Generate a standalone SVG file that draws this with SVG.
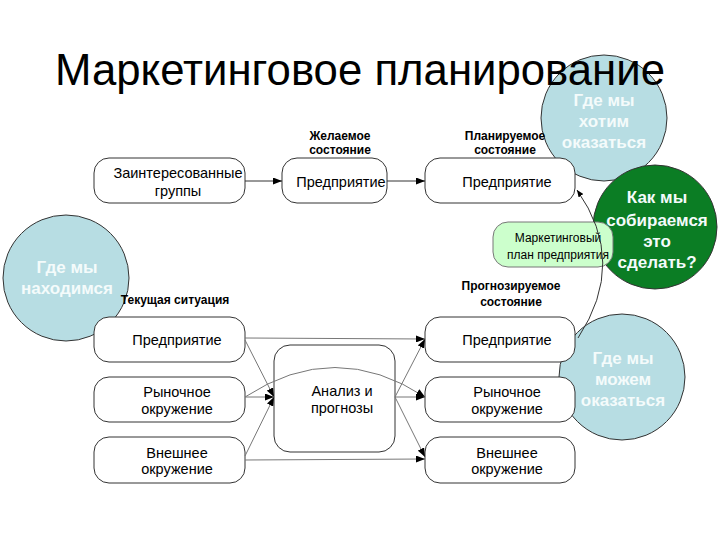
<svg xmlns="http://www.w3.org/2000/svg" width="720" height="540" viewBox="0 0 720 540">
<style>
.title{font-family:"Liberation Sans",Arial,sans-serif;font-size:44px;fill:#000}
.bx{fill:#fff;stroke:#333;stroke-width:1}
.plan{fill:#ccffcc;stroke:#777;stroke-width:1}
.t{font-family:"Liberation Sans",Arial,sans-serif;font-size:14.5px;fill:#000;text-anchor:middle}
.ts{font-family:"Liberation Sans",Arial,sans-serif;font-size:12px;fill:#000;text-anchor:middle}
.lb{font-family:"Liberation Sans",Arial,sans-serif;font-size:12px;font-weight:bold;fill:#000;text-anchor:middle}
.cb{fill:#b7dde3;stroke:#333;stroke-width:1}
.cg{fill:#0b7d24;stroke:#333;stroke-width:1}
.ct{font-family:"Liberation Sans",Arial,sans-serif;font-size:17px;font-weight:bold;fill:#f4fbfb;text-anchor:middle}
.ln{fill:none;stroke:#777;stroke-width:1}
.lnd{fill:none;stroke:#333;stroke-width:1}
</style>
<defs>
<marker id="ah" markerUnits="userSpaceOnUse" markerWidth="9" markerHeight="7" refX="9" refY="3.5" orient="auto">
<path d="M0,0 L9,3.5 L0,7 z" fill="#000"/>
</marker>
<marker id="ahs" markerUnits="userSpaceOnUse" markerWidth="7" markerHeight="6" refX="7" refY="3" orient="auto">
<path d="M0,0 L7,3 L0,6 z" fill="#000"/>
</marker>
</defs>

<g id="c-left">
<circle class="cb" cx="66" cy="278" r="63"/>
<text class="ct" x="67" y="273">Где мы</text>
<text class="ct" x="67" y="294">находимся</text>
</g>
<g id="c-want">
<circle class="cb" cx="604" cy="118" r="63"/>
<text class="ct" x="604" y="106">Где мы</text>
<text class="ct" x="604" y="127">хотим</text>
<text class="ct" x="604" y="148">оказаться</text>
</g>
<g id="c-can">
<circle class="cb" cx="622" cy="377" r="63"/>
<text class="ct" x="623" y="364">Где мы</text>
<text class="ct" x="623" y="385">можем</text>
<text class="ct" x="623" y="406">оказаться</text>
</g>
<g id="c-how">
<circle class="cg" cx="655" cy="227" r="62"/>
<text class="ct" x="657" y="203">Как мы</text>
<text class="ct" x="657" y="226">собираемся</text>
<text class="ct" x="657" y="247">это</text>
<text class="ct" x="657" y="268">сделать?</text>
</g>

<text class="title" x="55" y="85" textLength="610" lengthAdjust="spacingAndGlyphs">Маркетинговое планирование</text>

<g id="labels">
<text class="lb" x="340" y="140">Желаемое</text>
<text class="lb" x="340" y="154">состояние</text>
<text class="lb" x="505" y="140">Планируемое</text>
<text class="lb" x="505" y="154">состояние</text>
<text class="lb" x="511" y="290">Прогнозируемое</text>
<text class="lb" x="511" y="306">состояние</text>
<text class="lb" x="175" y="304">Текущая ситуация</text>
</g>

<g id="n-groups">
<rect class="bx" x="94" y="158" width="151" height="45" rx="15"/>
<text class="t" x="178" y="178">Заинтересованные</text>
<text class="t" x="178" y="196">группы</text>
</g>
<g id="n-desired">
<rect class="bx" x="282" y="158" width="105" height="45" rx="15"/>
<text class="t" x="341" y="187">Предприятие</text>
</g>
<g id="n-planned">
<rect class="bx" x="425" y="158" width="150" height="45" rx="15"/>
<text class="t" x="507" y="187">Предприятие</text>
</g>
<g id="n-plan">
<rect class="plan" x="493" y="222" width="120" height="45" rx="15"/>
<text class="ts" x="558" y="242">Маркетинговый</text>
<text class="ts" x="558" y="259">план предприятия</text>
</g>
<g id="n-cur-ent">
<rect class="bx" x="94" y="317" width="151" height="45" rx="15"/>
<text class="t" x="177" y="345">Предприятие</text>
</g>
<g id="n-cur-mkt">
<rect class="bx" x="94" y="377" width="151" height="45" rx="15"/>
<text class="t" x="177" y="397">Рыночное</text>
<text class="t" x="177" y="414">окружение</text>
</g>
<g id="n-cur-ext">
<rect class="bx" x="94" y="437" width="151" height="46" rx="15"/>
<text class="t" x="177" y="458">Внешнее</text>
<text class="t" x="177" y="474">окружение</text>
</g>
<g id="n-analysis">
<rect class="bx" x="274" y="345" width="121" height="107" rx="16"/>
<text class="t" x="342" y="396">Анализ и</text>
<text class="t" x="342" y="413">прогнозы</text>
</g>
<g id="n-fc-ent">
<rect class="bx" x="425" y="317" width="150" height="45" rx="15"/>
<text class="t" x="507" y="345">Предприятие</text>
</g>
<g id="n-fc-mkt">
<rect class="bx" x="425" y="377" width="150" height="45" rx="15"/>
<text class="t" x="507" y="397">Рыночное</text>
<text class="t" x="507" y="414">окружение</text>
</g>
<g id="n-fc-ext">
<rect class="bx" x="425" y="437" width="150" height="46" rx="15"/>
<text class="t" x="507" y="458">Внешнее</text>
<text class="t" x="507" y="474">окружение</text>
</g>

<g id="connectors">
<line class="lnd" x1="245" y1="181" x2="282" y2="181" marker-end="url(#ah)"/>
<line class="lnd" x1="387" y1="181" x2="425" y2="181" marker-end="url(#ah)"/>
<path class="lnd" d="M578,338 Q628,262 577,190" marker-end="url(#ahs)"/>
<line class="ln" x1="245" y1="338" x2="425" y2="339" marker-end="url(#ah)"/>
<line class="ln" x1="245" y1="460" x2="425" y2="459" marker-end="url(#ah)"/>
<line class="ln" x1="245" y1="340" x2="274" y2="397" marker-end="url(#ah)"/>
<line class="ln" x1="245" y1="397" x2="274" y2="397" marker-end="url(#ah)"/>
<line class="ln" x1="245" y1="456" x2="274" y2="397" marker-end="url(#ah)"/>
<path class="ln" d="M245,397 Q335,338 425,397" marker-end="url(#ah)"/>
<line class="ln" x1="395" y1="397" x2="425" y2="339" marker-end="url(#ah)"/>
<line class="ln" x1="395" y1="397" x2="425" y2="397" marker-end="url(#ah)"/>
<line class="ln" x1="395" y1="397" x2="425" y2="457" marker-end="url(#ah)"/>
</g>
</svg>
